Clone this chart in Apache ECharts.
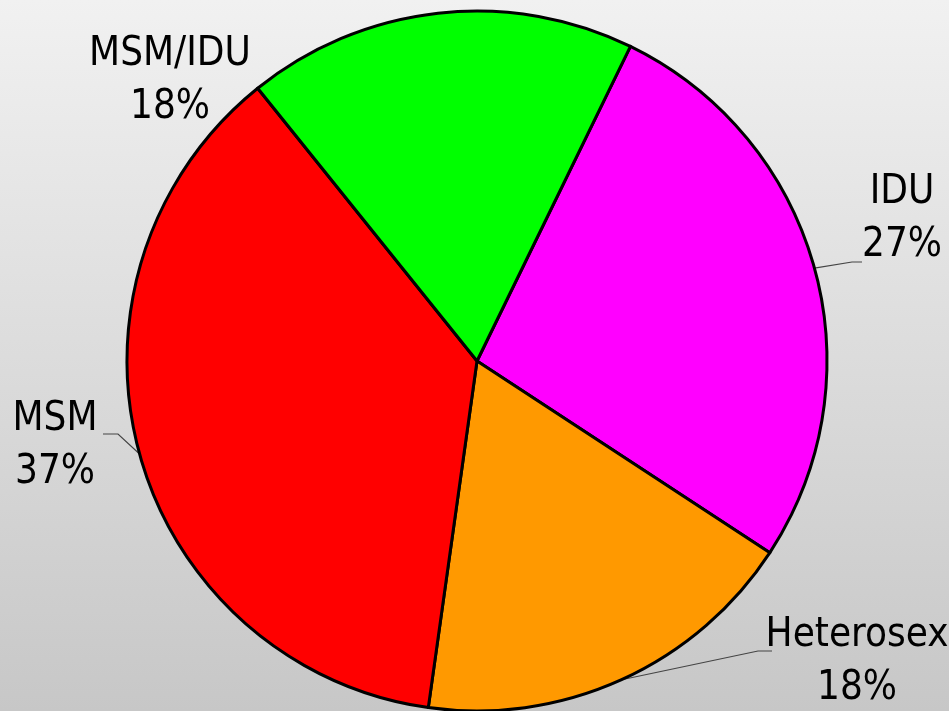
<!DOCTYPE html>
<html>
<head>
<meta charset="utf-8">
<script src="https://cdn.jsdelivr.net/npm/echarts@6/dist/echarts.min.js"></script>
<style>
    html, body { margin: 0; padding: 0; }
    #chart {
        width: 949px;
        height: 711px;
        background: linear-gradient(to bottom, #f1f1f1, #c7c7c7);
    }
</style>
</head>
<body>
<div id="chart"></div>
<script>
// data
const categories = ['IDU', 'Heterosex', 'MSM', 'MSM/IDU']
const shares = [27, 18, 37, 18]
const sliceColors = ['#ff00ff', '#ff9900', '#ff0000', '#00ff00']

// label block centres, and the leader line bend / end for each
const labelSpots = [
    [902, 219],
    [857, 662],
    [55, 446],
    [170, 81]
]
const leaderBends = [
    [[852, 262], [862, 262]],
    [[758, 651], [772, 651]],
    [[118, 434], [103, 434]],
    null
]

var myChart = echarts.init(document.getElementById('chart'))

var option = {
    backgroundColor: 'transparent',
    series: [{
        type: 'pie',
        center: [477, 361],
        radius: 350,
        startAngle: 64,
        clockwise: true,
        animation: false,
        itemStyle: {
            borderColor: '#000',
            borderWidth: 3
        },
        label: {
            formatter: '{b}\n{d}%',
            fontFamily: "'DejaVu Sans Condensed', 'Liberation Sans Narrow', sans-serif",
            fontSize: 40,
            lineHeight: 53,
            color: '#000',
            align: 'center',
            overflow: 'none'
        },
        labelLine: {
            show: true,
            length: 10,
            length2: 20,
            lineStyle: { color: '#444', width: 1.2 }
        },
        labelLayout: function (params) {
            const i = params.dataIndex
            const spot = labelSpots[i]
            const res = {
                x: spot[0],
                y: spot[1],
                align: 'center',
                verticalAlign: 'middle'
            }
            if (leaderBends[i] && params.labelLinePoints) {
                res.labelLinePoints = [params.labelLinePoints[0], leaderBends[i][0], leaderBends[i][1]]
            }
            return res
        },
        data: categories.map((name, i) => ({
            name: name,
            value: shares[i],
            itemStyle: { color: sliceColors[i] },
            labelLine: { show: name !== 'MSM/IDU' }
        }))
    }]
}

myChart.setOption(option)
</script>
</body>
</html>
